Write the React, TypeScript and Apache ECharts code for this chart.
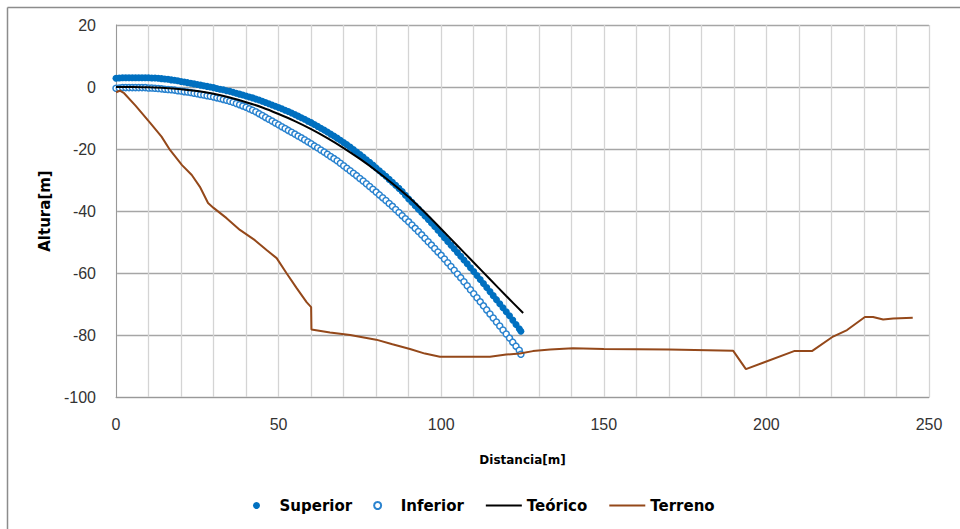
import React, { useEffect, useRef } from "react";
import * as echarts from "echarts";

const xTicks = [0, 50, 100, 150, 200, 250];
const yTicks = [-100, -80, -60, -40, -20, 0, 20];

const superior: [number, number][] = [
  [0, 2.8], [1, 2.9], [2, 3.0], [3, 3.0], [4, 3.0], [5, 3.0], [6, 3.0], [7, 3.0], [8, 3.0], [9, 3.0],
  [10, 3.0], [11, 2.9], [12, 2.9], [13, 2.8], [14, 2.7], [15, 2.6], [16, 2.5], [17, 2.3], [18, 2.2], [19, 2.0],
  [20, 1.8], [21, 1.6], [22, 1.4], [23, 1.2], [24, 1.0], [25, 0.8], [26, 0.6], [27, 0.4], [28, 0.2], [29, 0.0],
  [30, -0.2], [31, -0.5], [32, -0.7], [33, -0.9], [34, -1.2], [35, -1.4], [36, -1.7], [37, -2.0], [38, -2.3], [39, -2.6],
  [40, -2.9], [41, -3.2], [42, -3.5], [43, -3.9], [44, -4.2], [45, -4.6], [46, -5.0], [47, -5.4], [48, -5.8], [49, -6.2],
  [50, -6.6], [51, -7.0], [52, -7.5], [53, -7.9], [54, -8.4], [55, -8.9], [56, -9.4], [57, -9.9], [58, -10.4], [59, -11.0],
  [60, -11.5], [61, -12.1], [62, -12.7], [63, -13.3], [64, -13.9], [65, -14.5], [66, -15.2], [67, -15.8], [68, -16.5], [69, -17.2],
  [70, -17.9], [71, -18.6], [72, -19.4], [73, -20.2], [74, -21.0], [75, -21.8], [76, -22.6], [77, -23.5], [78, -24.3], [79, -25.2],
  [80, -26.1], [81, -27.0], [82, -27.9], [83, -28.8], [84, -29.8], [85, -30.7], [86, -31.7], [87, -32.7], [88, -33.7], [89, -34.9],
  [90, -36.1], [91, -37.2], [92, -38.3], [93, -39.4], [94, -40.5], [95, -41.6], [96, -42.7], [97, -43.9], [98, -45.0], [99, -46.2],
  [100, -47.4], [101, -48.6], [102, -49.8], [103, -51.0], [104, -52.2], [105, -53.4], [106, -54.6], [107, -55.8], [108, -57.0], [109, -58.3],
  [110, -59.5], [111, -60.8], [112, -62.1], [113, -63.4], [114, -64.7], [115, -66.0], [116, -67.3], [117, -68.6], [118, -69.9], [119, -71.2],
  [120, -72.5], [121, -73.8], [122, -75.2], [123, -76.6], [124, -78.0], [124.5, -78.8],
];

const inferior: [number, number][] = [
  [0, -0.4], [1, -0.3], [2, -0.2], [3, -0.2], [4, -0.2], [5, -0.2], [6, -0.2], [7, -0.2], [8, -0.2], [9, -0.2],
  [10, -0.3], [11, -0.3], [12, -0.4], [13, -0.5], [14, -0.6], [15, -0.7], [16, -0.8], [17, -0.9], [18, -1.0], [19, -1.2],
  [20, -1.3], [21, -1.5], [22, -1.6], [23, -1.8], [24, -2.0], [25, -2.2], [26, -2.4], [27, -2.6], [28, -2.8], [29, -3.0],
  [30, -3.2], [31, -3.5], [32, -3.7], [33, -4.0], [34, -4.3], [35, -4.6], [36, -4.9], [37, -5.3], [38, -5.7], [39, -6.1],
  [40, -6.5], [41, -7.0], [42, -7.5], [43, -8.0], [44, -8.6], [45, -9.2], [46, -9.8], [47, -10.4], [48, -11.0], [49, -11.6],
  [50, -12.2], [51, -12.8], [52, -13.4], [53, -14.0], [54, -14.6], [55, -15.2], [56, -15.8], [57, -16.4], [58, -17.0], [59, -17.7],
  [60, -18.3], [61, -19.0], [62, -19.6], [63, -20.3], [64, -21.0], [65, -21.7], [66, -22.4], [67, -23.1], [68, -23.8], [69, -24.6],
  [70, -25.4], [71, -26.2], [72, -27.0], [73, -27.8], [74, -28.6], [75, -29.5], [76, -30.3], [77, -31.2], [78, -32.1], [79, -33.0],
  [80, -33.9], [81, -34.8], [82, -35.7], [83, -36.6], [84, -37.6], [85, -38.5], [86, -39.5], [87, -40.5], [88, -41.5], [89, -42.5],
  [90, -43.5], [91, -44.5], [92, -45.6], [93, -46.6], [94, -47.7], [95, -48.8], [96, -49.9], [97, -51.0], [98, -52.1], [99, -53.2],
  [100, -54.3], [101, -55.5], [102, -56.7], [103, -57.9], [104, -59.1], [105, -60.3], [106, -61.5], [107, -62.8], [108, -64.1], [109, -65.4],
  [110, -66.7], [111, -68.0], [112, -69.3], [113, -70.6], [114, -71.9], [115, -73.2], [116, -74.5], [117, -75.8], [118, -77.1], [119, -78.4],
  [120, -79.7], [121, -81.0], [122, -82.3], [123, -83.6], [124, -84.9], [124.5, -86.2],
];

const teorico: [number, number][] = [
  [0, 0], [5, 0], [10, -0.1], [15, -0.3], [20, -0.7], [25, -1.3], [30, -2.2], [35, -3.4], [40, -4.9], [45, -6.6],
  [50, -8.7], [55, -11.0], [60, -13.6], [65, -16.5], [70, -19.7], [75, -23.2], [80, -27.0], [85, -31.1], [90, -35.5],
  [95, -40.5], [100, -45.8], [105, -51.2], [110, -56.6], [115, -62.0], [120, -67.4], [125.2, -72.9],
];

const terreno: [number, number][] = [
  [0, -1.7], [1.2, -1.2], [2.5, -2.0], [6, -6], [10.5, -11.6], [14, -16], [16.6, -20.3], [20.3, -25.2], [23.3, -28.4],
  [25.8, -32.2], [28.3, -37.4], [30, -39], [34, -42.3], [38.1, -46.1], [42.7, -49.4], [46.3, -52.6], [49.4, -55.2],
  [52.4, -60], [55.5, -64.8], [58.6, -69.4], [60, -71], [60.1, -78.2], [65.8, -79.2], [72, -80], [80, -81.5], [85, -83],
  [90.4, -84.5], [95, -86], [99.6, -87], [115, -87], [120, -86.3], [124.2, -86], [128.2, -85.2], [133.5, -84.7],
  [140.5, -84.3], [150, -84.5], [170, -84.7], [189.8, -85.1], [193.7, -91], [208.5, -85.2], [214, -85.2], [220.5, -80.5],
  [224.8, -78.4], [230.3, -74.2], [232.8, -74.2], [235.9, -75.0], [239, -74.7], [245, -74.4],
];

const seriesNames = ["Superior", "Inferior", "Teórico", "Terreno"];

export default function App() {
  const ref = useRef<HTMLDivElement>(null);
  useEffect(() => {
    if (!ref.current) return;
    const chart = echarts.init(ref.current, undefined, { renderer: "svg" });
    const font = "DejaVu Sans";
    const tickFont = "Liberation Sans";
    chart.setOption({
      animation: false,
      backgroundColor: "#fff",
      graphic: [
        { type: "line", shape: { x1: 7.5, y1: 7.5, x2: 7.5, y2: 540 }, style: { stroke: "#8c8c8c", lineWidth: 1.5 } },
        { type: "line", shape: { x1: 7.5, y1: 7.5, x2: 970, y2: 7.5 }, style: { stroke: "#8c8c8c", lineWidth: 1.5 } },
      ],
      grid: { left: 116, right: 31, top: 25, bottom: 132 },
      legend: {
        data: [
          { name: seriesNames[0] },
          { name: seriesNames[1] },
          { name: seriesNames[2], itemStyle: { opacity: 0 } },
          { name: seriesNames[3], itemStyle: { opacity: 0 } },
        ],
        left: 248,
        top: 493,
        itemWidth: 36,
        itemHeight: 7,
        itemGap: 21,
        textStyle: { fontFamily: font, fontWeight: "bold", fontSize: 15, color: "#000" },
      },
      xAxis: {
        type: "value",
        min: xTicks[0],
        max: xTicks[xTicks.length - 1],
        interval: 50,
        name: "Distancia[m]",
        nameLocation: "middle",
        nameGap: 57,
        nameTextStyle: { fontFamily: font, fontWeight: "bold", fontSize: 12, color: "#000" },
        axisLine: { show: true, onZero: false, lineStyle: { color: "#999", width: 1 } },
        axisTick: { show: false },
        axisLabel: { fontFamily: tickFont, fontSize: 16, color: "#333", margin: 19 },
        splitLine: { show: true, lineStyle: { color: "#d4d4d4", width: 1.3 } },
        minorTick: { show: false, splitNumber: 5 },
        minorSplitLine: { show: true, lineStyle: { color: "#d4d4d4", width: 1.3 } },
      },
      yAxis: {
        type: "value",
        min: yTicks[0],
        max: yTicks[yTicks.length - 1],
        interval: 20,
        name: "Altura[m]",
        nameLocation: "middle",
        nameGap: 64,
        nameTextStyle: { fontFamily: font, fontWeight: "bold", fontSize: 15, color: "#000" },
        axisLine: { show: true, onZero: false, lineStyle: { color: "#999", width: 1 } },
        axisTick: { show: false },
        axisLabel: { fontFamily: tickFont, fontSize: 16, color: "#333", margin: 20 },
        splitLine: { show: true, lineStyle: { color: "#a6a6a6", width: 1.3 } },
      },
      series: [
        {
          name: "Superior",
          type: "scatter",
          data: superior,
          symbol: "circle",
          symbolSize: 7,
          itemStyle: { color: "#0070C0", opacity: 1 },
        },
        {
          name: "Inferior",
          type: "scatter",
          data: inferior,
          symbol: "circle",
          symbolSize: 6,
          itemStyle: { color: "#ffffff", borderColor: "#2a83cf", borderWidth: 1.5, opacity: 1 },
        },
        {
          name: "Teórico",
          type: "line",
          data: teorico,
          symbol: "none",
          smooth: 0.3,
          lineStyle: { color: "#000", width: 2 },
          itemStyle: { color: "#000" },
        },
        {
          name: "Terreno",
          type: "line",
          data: terreno,
          symbol: "none",
          lineStyle: { color: "#94481a", width: 2 },
          itemStyle: { color: "#94481a" },
        },
      ],
    });
    return () => chart.dispose();
  }, []);
  return (
    <div
      ref={ref}
      style={{ position: "absolute", left: 0, top: 0, width: 960, height: 529 }}
    />
  );
}
